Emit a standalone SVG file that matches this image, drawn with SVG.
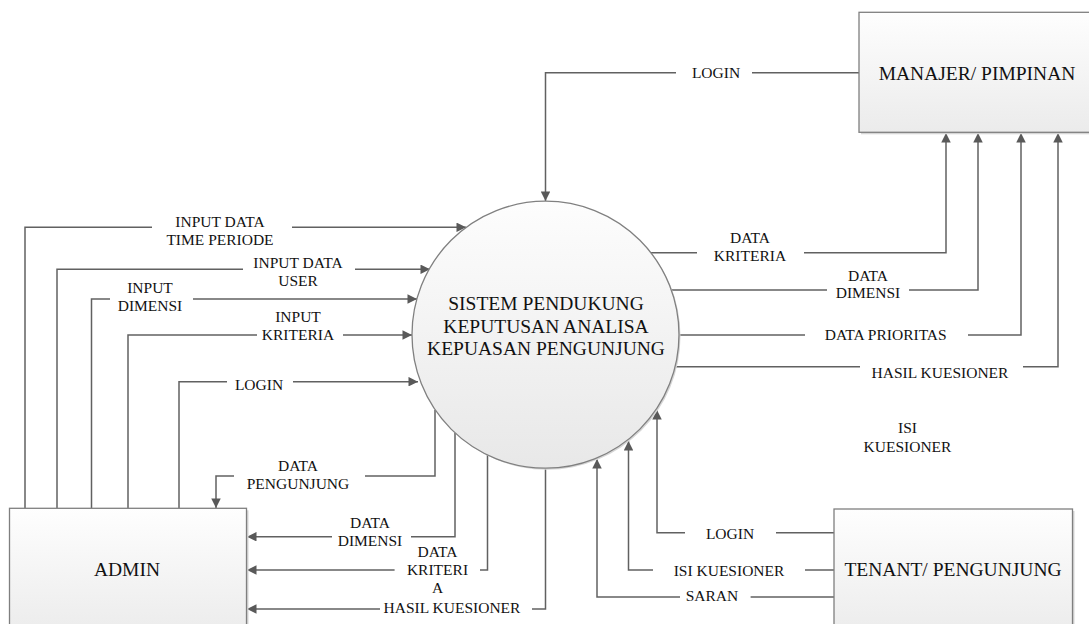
<svg xmlns="http://www.w3.org/2000/svg" width="1089" height="624" viewBox="0 0 1089 624">
<defs>
<linearGradient id="boxg" x1="0" y1="0" x2="0" y2="1">
<stop offset="0" stop-color="#fefefe"/>
<stop offset="1" stop-color="#ebebeb"/>
</linearGradient>
<linearGradient id="circg" x1="0" y1="0" x2="0" y2="1">
<stop offset="0" stop-color="#fdfdfd"/>
<stop offset="1" stop-color="#e8e8e8"/>
</linearGradient>
<marker id="arr" viewBox="0 0 10 10" refX="10" refY="5" markerWidth="10" markerHeight="9.5" markerUnits="userSpaceOnUse" orient="auto">
<path d="M0,0 L10,5 L0,10 Z" fill="#595959"/>
</marker>
</defs>
<style>
.node{fill:url(#boxg);stroke:#7f7f7f;stroke-width:1.3}
.circ{fill:url(#circg);stroke:#808080;stroke-width:1.3}
.shadow{fill:#d6d6d6}
.ntext{font-family:"Liberation Serif","Times New Roman",serif;font-size:19.5px;fill:#111;text-anchor:middle}
.lbl{font-family:"Liberation Serif","Times New Roman",serif;font-size:15.5px;fill:#111;text-anchor:middle}
.con{fill:none;stroke:#616161;stroke-width:1.5}
.arw{marker-end:url(#arr)}
</style>
<rect width="1089" height="624" fill="#ffffff"/>

<g id="connectors">
<path class="con arw" d="M859,72.7 L752,72.7 M676,72.7 L545.5,72.7 L545.5,201"/>
<path class="con arw" d="M25,508 L25,227.3 L152,227.3 M292,227.3 L466,227.3"/>
<path class="con arw" d="M57,508 L57,269.3 L243,269.3 M355,269.3 L430,269.3"/>
<path class="con arw" d="M91.5,508 L91.5,299 L110,299 M193,299 L417,299"/>
<path class="con arw" d="M128,508 L128,335 L257,335 M343,335 L412,335"/>
<path class="con arw" d="M179,508 L179,381.7 L227,381.7 M293,381.7 L418,381.7"/>
<path class="con arw" d="M435,410 L435,476 L365,476 M234,476 L216,476 L216,508"/>
<path class="con arw" d="M455,433 L455,536.7 L411,536.7 M332,536.7 L247,536.7"/>
<path class="con arw" d="M487.5,455 L487.5,570 L480,570 M394.6,570 L247,570"/>
<path class="con arw" d="M545.5,468 L545.5,609 L532,609 M380,609 L247,609"/>
<path class="con arw" d="M834,532.7 L776,532.7 M685,532.7 L657,532.7 L657,410"/>
<path class="con arw" d="M834,570 L805,570 M653,570 L628.5,570 L628.5,441"/>
<path class="con arw" d="M834,597 L750.6,597 M680,597 L597,597 L597,459"/>
<path class="con arw" d="M651,252.7 L697,252.7 M804,252.7 L946,252.7 L946,133"/>
<path class="con arw" d="M671,290 L827,290 M909,290 L978,290 L978,133"/>
<path class="con arw" d="M679,335 L805,335 M968,335 L1021,335 L1021,133"/>
<path class="con arw" d="M675,366.7 L860,366.7 M1023,366.7 L1058,366.7 L1058,133"/>
</g>

<g id="labels">
<text class="lbl" x="716" y="78">LOGIN</text>
<text class="lbl" x="220" y="227.3">INPUT DATA</text>
<text class="lbl" x="220" y="245">TIME PERIODE</text>
<text class="lbl" x="298" y="267.7">INPUT DATA</text>
<text class="lbl" x="298" y="285.5">USER</text>
<text class="lbl" x="150" y="292.7">INPUT</text>
<text class="lbl" x="150" y="310.7">DIMENSI</text>
<text class="lbl" x="298" y="321.7">INPUT</text>
<text class="lbl" x="298" y="340">KRITERIA</text>
<text class="lbl" x="259" y="390">LOGIN</text>
<text class="lbl" x="298" y="470.7">DATA</text>
<text class="lbl" x="298" y="489">PENGUNJUNG</text>
<text class="lbl" x="370" y="527.7">DATA</text>
<text class="lbl" x="370" y="545.5">DIMENSI</text>
<text class="lbl" x="437.5" y="556.7">DATA</text>
<text class="lbl" x="437.5" y="575">KRITERI</text>
<text class="lbl" x="437.5" y="593.3">A</text>
<text class="lbl" x="452" y="613">HASIL KUESIONER</text>
<text class="lbl" x="730" y="538.5">LOGIN</text>
<text class="lbl" x="729" y="576">ISI KUESIONER</text>
<text class="lbl" x="712" y="600.5">SARAN</text>
<text class="lbl" x="907.5" y="433.3">ISI</text>
<text class="lbl" x="907.5" y="451.7">KUESIONER</text>
<text class="lbl" x="750" y="243.3">DATA</text>
<text class="lbl" x="750" y="261">KRITERIA</text>
<text class="lbl" x="868" y="281">DATA</text>
<text class="lbl" x="868" y="298.3">DIMENSI</text>
<text class="lbl" x="885.7" y="340">DATA PRIORITAS</text>
<text class="lbl" x="940" y="377.7">HASIL KUESIONER</text>
</g>

<g id="manajer">
<rect class="shadow" x="861" y="14.3" width="240" height="120"/>
<rect class="node" x="859" y="12.3" width="240" height="120"/>
<text class="ntext" x="977" y="80">MANAJER/ PIMPINAN</text>
</g>

<g id="sistem">
<circle class="shadow" cx="547" cy="336.2" r="133.5"/>
<circle class="circ" cx="545.5" cy="334.7" r="133.5"/>
<text class="ntext" x="546" y="310">SISTEM PENDUKUNG</text>
<text class="ntext" x="546" y="332.5">KEPUTUSAN ANALISA</text>
<text class="ntext" x="546" y="355">KEPUASAN PENGUNJUNG</text>
</g>

<g id="admin">
<rect class="shadow" x="11.5" y="510.3" width="237" height="130"/>
<rect class="node" x="9.5" y="508.3" width="237" height="130"/>
<text class="ntext" x="127" y="576">ADMIN</text>
</g>

<g id="tenant">
<rect class="shadow" x="836" y="511" width="238.5" height="130"/>
<rect class="node" x="834" y="509" width="238.5" height="130"/>
<text class="ntext" x="953" y="576">TENANT/ PENGUNJUNG</text>
</g>
</svg>
